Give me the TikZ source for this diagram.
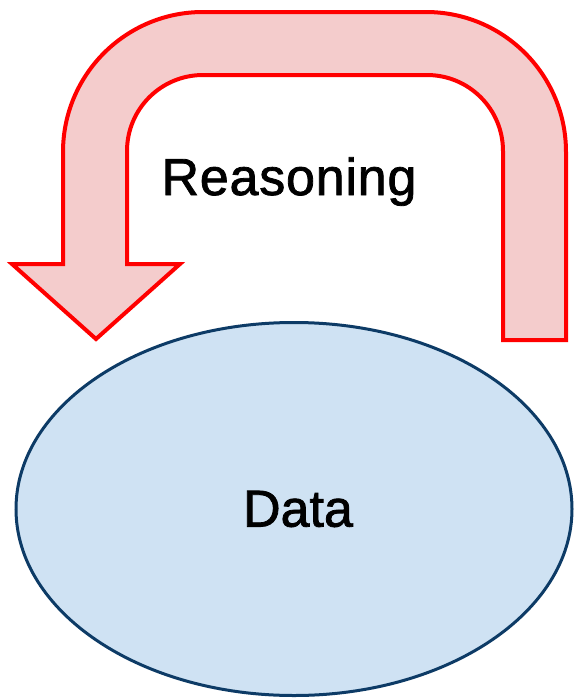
\documentclass[tikz,border=0pt]{standalone}
\usepackage{fontspec}
\setmainfont{Liberation Sans}
\newfontfamily\labelfont{Liberation Sans}[FakeBold=1.5, LetterSpace=1.5]
\newfontfamily\blobfont{Liberation Sans}[FakeBold=1.5]
\usetikzlibrary{shapes.geometric}
\definecolor{arrowfill}{HTML}{F4CCCC}
\definecolor{arrowline}{HTML}{FF0000}
\definecolor{ellfill}{HTML}{CFE2F3}
\definecolor{ellline}{HTML}{0D3B66}
\tikzset{
  looparrow/.style={draw=arrowline, fill=arrowfill, line width=4pt, line join=miter},
  datablob/.style={ellipse, draw=ellline, fill=ellfill, line width=3pt,
    minimum width=556pt, minimum height=373pt, inner sep=0pt,
    font=\blobfont\fontsize{52}{60}\selectfont},
  caption/.style={font=\labelfont\fontsize{52}{60}\selectfont, inner sep=0pt}
}
\begin{document}
\begin{tikzpicture}[x=1pt,y=-1pt]
  \useasboundingbox (0,0) rectangle (575,699);
  % bent arrow running from the right, over the top, and down to the left
  \draw[looparrow]
    (503,340) -- (503,151)
      arc[start angle=0, end angle=90, radius=76pt] -- (203,75)
      arc[start angle=90, end angle=180, radius=76pt] -- (127,264)
    -- (180,264) -- (96,339) -- (12,264) -- (63,264) -- (63,152)
      arc[start angle=180, end angle=90, radius=140pt] -- (426,12)
      arc[start angle=90, end angle=0, radius=140pt] -- (566,340)
    -- cycle;
  \node[caption, anchor=base] (reasoning) at (289,195) {Reasoning};
  \node[datablob] (data) at (294,509) {\hspace{8pt}Data};
\end{tikzpicture}
\end{document}
